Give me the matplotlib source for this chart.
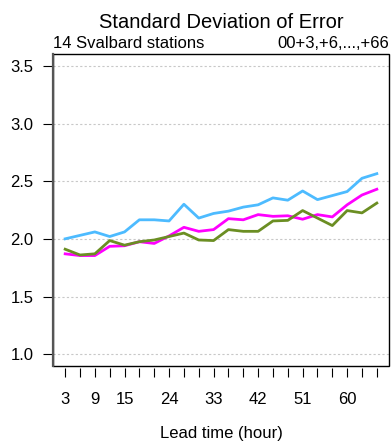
import matplotlib
matplotlib.use("Agg")
import matplotlib.pyplot as plt
from matplotlib.patches import Rectangle

plt.rcParams['font.family'] = ['Liberation Sans', 'DejaVu Sans']

lead_time = list(range(3, 67, 3))
blue = [2.00, 2.03, 2.06, 2.02, 2.06, 2.165, 2.165, 2.155, 2.30, 2.18, 2.22,
        2.24, 2.275, 2.295, 2.355, 2.335, 2.415, 2.34, 2.375, 2.41, 2.525, 2.565]
magenta = [1.87, 1.855, 1.855, 1.935, 1.94, 1.975, 1.96, 2.025, 2.10, 2.065, 2.08,
           2.175, 2.165, 2.21, 2.195, 2.20, 2.17, 2.21, 2.19, 2.295, 2.38, 2.43]
green = [1.91, 1.86, 1.87, 1.985, 1.945, 1.975, 1.99, 2.02, 2.05, 1.99, 1.985,
         2.08, 2.065, 2.065, 2.155, 2.16, 2.245, 2.18, 2.115, 2.245, 2.225, 2.31]
y_ticks = [1.0, 1.5, 2.0, 2.5, 3.0, 3.5]
x_labels = [3, 9, 15, 24, 33, 42, 51, 60]

title = "Standard Deviation of Error"
sub_left = "14 Svalbard stations"
sub_right = "00+3,+6,...,+66"
xlabel = "Lead time (hour)"

fig = plt.figure(figsize=(3.92, 4.44), dpi=100)
ax = fig.add_axes([52.7/392, 1-365.7/444, (389.3-52.7)/392, (365.7-54.3)/444])

for yv in y_ticks:
    ax.axhline(yv, color='#c8c8c8', lw=0.8, ls=(0, (2, 2)), zorder=1)

lw = 2.0
ax.plot(lead_time, blue, color='#4DBBFF', lw=lw, zorder=3)
ax.plot(lead_time, magenta, color='#FF00FF', lw=lw, zorder=3)
ax.plot(lead_time, green, color='#6B8E23', lw=lw, zorder=3)

ax.set_xlim(3 - 0.04*63, 66 + 0.04*63)
ax.set_ylim(0.9, 3.6)

for s in ax.spines.values():
    s.set_color('none')
ax.add_patch(Rectangle((0, 0), 1, 1, transform=ax.transAxes, fill=False,
                       edgecolor='black', lw=1.0, zorder=5, clip_on=False))
ax.plot([0, 0], [0, 1], transform=ax.transAxes, color='#555555', lw=1.6,
        zorder=6, clip_on=False)
ax.spines['bottom'].set_position(('outward', 1.5))

ax.set_yticks(y_ticks)
ax.set_yticklabels([f"{v:.1f}" for v in y_ticks])
ax.set_xticks(lead_time)
ax.set_xticklabels([str(t) if t in x_labels else "" for t in lead_time])
ax.tick_params(axis='y', length=7, width=0.8, pad=7, labelsize=12, colors='black')
ax.tick_params(axis='x', length=6.5, width=0.8, pad=11, labelsize=12, colors='black')

fig.text(221/392, 1-28/444, title, ha='center', va='baseline', fontsize=14.5)
fig.text(52.7/392, 1-48.3/444, sub_left, ha='left', va='baseline', fontsize=12)
fig.text(389/392, 1-48.3/444, sub_right, ha='right', va='baseline', fontsize=12)
fig.text(221/392, 1-438/444, xlabel, ha='center', va='baseline', fontsize=12)

fig.savefig("out.png", dpi=100)
